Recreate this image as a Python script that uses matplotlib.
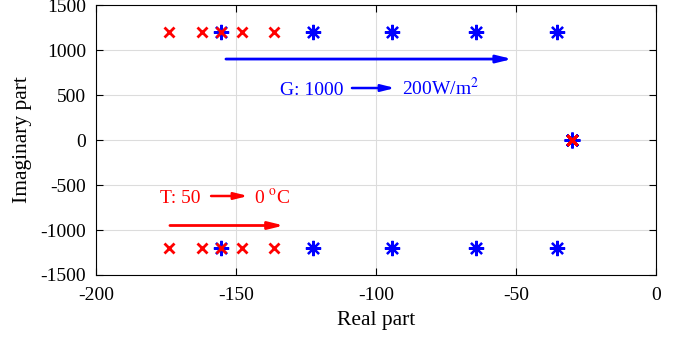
import numpy as np
import matplotlib.pyplot as plt

plt.rcParams['font.family'] = ['Liberation Serif', 'DejaVu Serif']
plt.rcParams['mathtext.fontset'] = 'stix'
plt.rcParams['axes.unicode_minus'] = False

# closed-loop poles, irradiance sweep (G: 1000 -> 200 W/m^2)
g_real = [-155.4, -122.6, -94.4, -64.3, -35.4]
g_imag = [1200, 1200, 1200, 1200, 1200]
# closed-loop poles, temperature sweep (T: 50 -> 0 degC)
t_real = [-173.8, -162.0, -155.4, -147.8, -136.4]
t_imag = [1200, 1200, 1200, 1200, 1200]
# real pole shared by all cases
real_pole = -30.0

xticks = [-200, -150, -100, -50, 0]
yticks = [-1500, -1000, -500, 0, 500, 1000, 1500]

fig = plt.figure(figsize=(6.79, 3.37), dpi=100)
ax = fig.add_axes([0.1414, 0.184, 0.8248, 0.801])

star = dict(linestyle='none', marker=(8, 2, 0), ms=11, mew=1.6, color='blue', zorder=3)
cross = dict(linestyle='none', marker='x', ms=7, mew=2, color='red', zorder=4)

ax.plot(g_real, g_imag, **star)
ax.plot(g_real, [-v for v in g_imag], **star)
ax.plot([real_pole] * len(g_real), [0] * len(g_real), **star)

ax.plot(t_real, t_imag, **cross)
ax.plot(t_real, [-v for v in t_imag], **cross)
ax.plot([real_pole] * len(t_real), [0] * len(t_real), **cross)


def arrow(x0, x1, y, color, lw, hl, hw):
    ax.annotate('', xy=(x1, y), xytext=(x0, y),
                arrowprops=dict(arrowstyle=f'-|>,head_length={hl},head_width={hw}',
                                color=color, lw=lw, shrinkA=0, shrinkB=0))


# sweep direction arrows
arrow(-153.6, -51.4, 900, 'blue', 2, 0.9, 0.22)
arrow(-173.6, -132.9, -950, 'red', 2, 0.9, 0.22)

# labels with inline arrows
fs = 14
ax.text(-134.3, 500, 'G: 1000', color='blue', fontsize=fs, va='baseline', ha='left')
arrow(-108.6, -93.2, 578, 'blue', 1.8, 0.8, 0.2)
ax.text(-90.7, 500, '200W/m$^2$', color='blue', fontsize=fs, va='baseline', ha='left')

ax.text(-177, -700, 'T: 50', color='red', fontsize=fs, va='baseline', ha='left')
arrow(-158.9, -145.7, -622, 'red', 1.8, 0.8, 0.2)
ax.text(-143.6, -700, '0 $^{\\rm o}$C', color='red', fontsize=fs, va='baseline', ha='left')

ax.set_xlim(-200, 0)
ax.set_ylim(-1500, 1500)
ax.set_xticks(xticks)
ax.set_yticks(yticks)
ax.tick_params(direction='in', top=True, right=True, labelsize=14, length=5)
ax.tick_params(axis='x', pad=9)
ax.tick_params(axis='y', pad=7)
ax.grid(True, color='#dcdcdc', lw=0.8)
ax.set_axisbelow(True)
ax.set_xlabel('Real part', fontsize=15.5, labelpad=5)
ax.set_ylabel('Imaginary part', fontsize=15.5, labelpad=6)

fig.savefig('out.png', dpi=100)
